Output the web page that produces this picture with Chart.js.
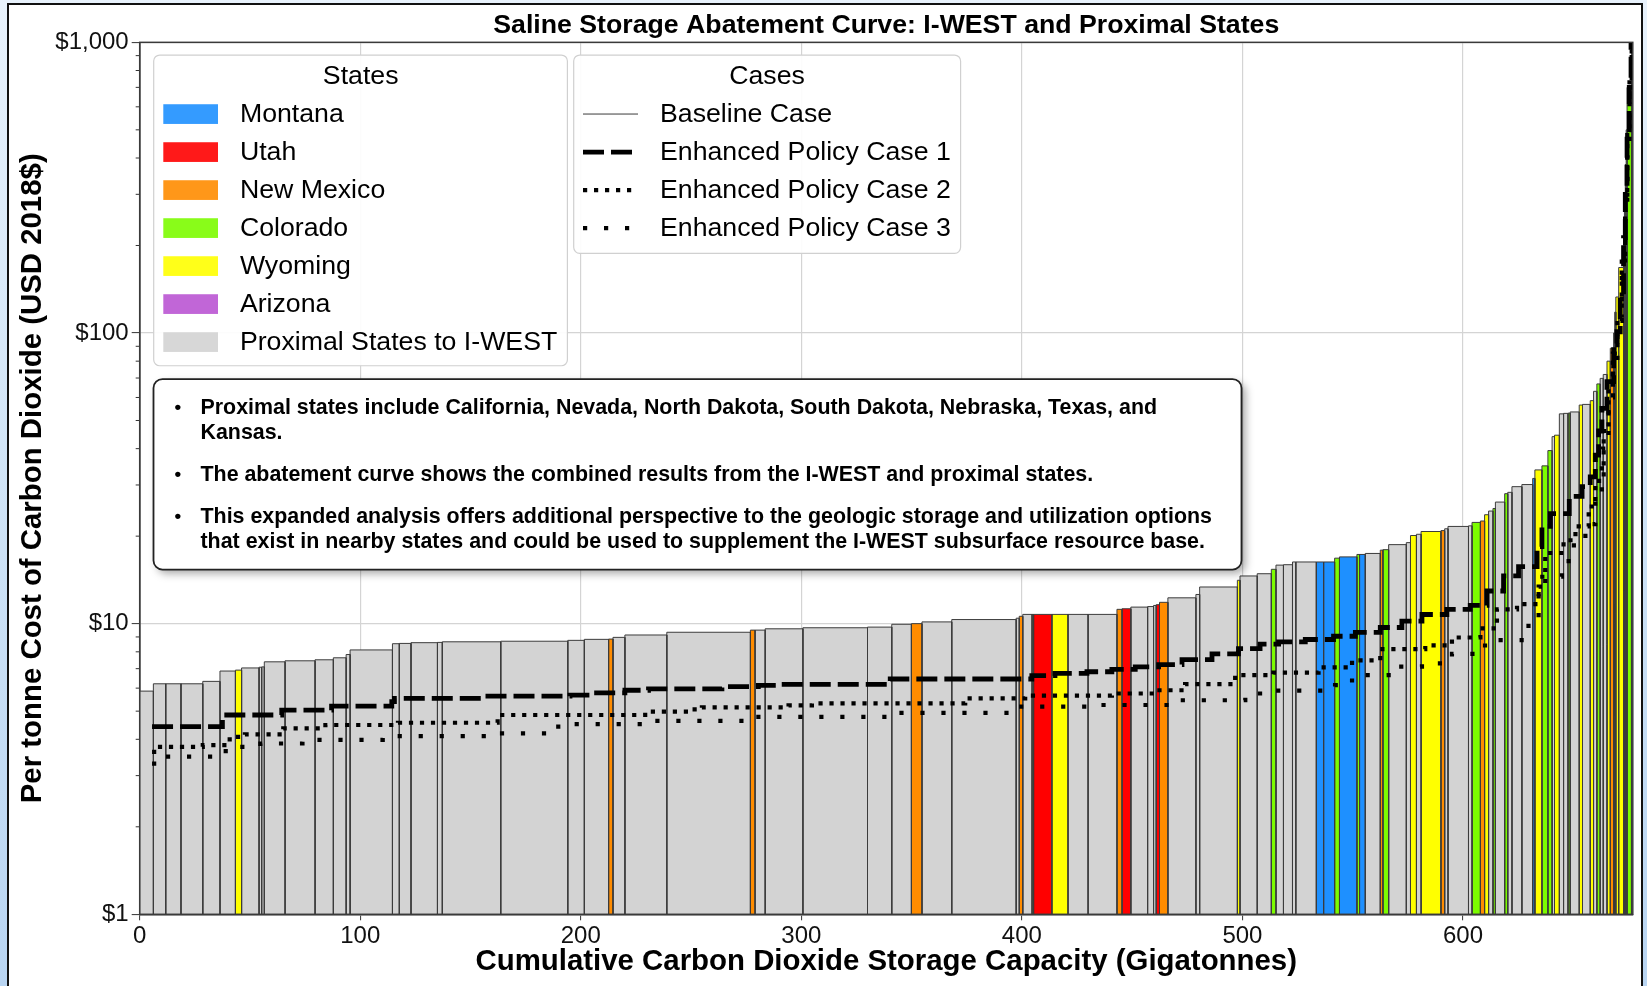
<!DOCTYPE html>
<html>
<head>
<meta charset="utf-8">
<title>Saline Storage Abatement Curve: I-WEST and Proximal States</title>
<script src="https://cdn.jsdelivr.net/npm/chart.js@4.4.1/dist/chart.umd.min.js"></script>
<style>
  html, body { margin: 0; padding: 0; width: 1647px; height: 986px; overflow: hidden;
    background: linear-gradient(180deg, #e8f2fc 0%, #d2e5f7 45%, #b9d5f2 100%); }
  #frame { position: absolute; left: 7px; top: 3px; width: 1636px; height: 1000px;
    background: #ffffff; border: 2px solid #111; box-sizing: border-box; }
  #chart { position: absolute; left: 0; top: 0; }
</style>
</head>
<body>
<div id="frame"></div>
<canvas id="chart" width="1647" height="986"></canvas>
<script>
const FONT = "'Liberation Sans', Arial, Helvetica, sans-serif";

// Storage capacity of each saline reservoir (Gt), listed in order of baseline cost
const reservoirCapacity = [
  6.2, 5.6, 6.9, 9.9, 7.8, 7.0, 2.8, 7.9, 1.2, 1.2,
  9.4, 13.6, 8.3, 5.8, 1.8, 19.2, 3.1, 5.3, 12.0, 2.2,
  26.5, 30.4, 7.5, 11.0, 2.0, 5.4, 19.0, 37.9, 2.1, 4.6,
  17.1, 29.3, 11.0, 8.9, 4.8, 13.5, 29.2, 1.4, 1.6, 4.2,
  0.7, 8.3, 7.3, 9.1, 13.1, 2.3, 4.0, 7.6, 2.7, 1.2,
  1.5, 3.8, 12.7, 1.7, 17.1, 1.2, 7.8, 6.4, 2.1, 3.4,
  4.1, 1.5, 9.3, 3.3, 5.0, 2.2, 7.9, 1.2, 2.6, 6.8,
  1.2, 2.6, 8.0, 1.9, 2.7, 2.1, 9.0, 1.7, 1.5, 9.3,
  1.6, 3.8, 1.9, 1.8, 2.0, 1.1, 4.2, 1.4, 1.9, 4.5,
  4.9, 1.0, 3.2, 2.7, 1.9, 1.1, 2.2, 1.9, 2.0, 1.0,
  4.1, 1.5, 3.5, 1.5, 1.5, 1.5, 1.4, 1.7, 1.5, 1.5,
  0.5, 0.5, 1.3, 2.2, 0.4, 0.4, 0.4, 0.4, 2.0, 0.6
];

// Baseline case cost per tonne (USD 2018$)
const baselineCost = [
  5.86, 6.21, 6.21, 6.21, 6.33, 6.87, 6.92, 7.04, 7.08, 7.10,
  7.39, 7.45, 7.51, 7.63, 7.83, 8.12, 8.53, 8.55, 8.60, 8.62,
  8.66, 8.70, 8.76, 8.83, 8.85, 8.97, 9.14, 9.34, 9.50, 9.50,
  9.60, 9.68, 9.73, 9.95, 10.0, 10.14, 10.33, 10.44, 10.60, 10.76,
  10.76, 10.76, 10.76, 10.76, 10.76, 11.2, 11.25, 11.4, 11.45, 11.55,
  11.62, 11.84, 12.27, 12.6, 13.37, 14.1, 14.59, 14.85, 15.38, 15.9,
  15.95, 16.3, 16.3, 16.3, 16.3, 16.8, 16.97, 17.3, 17.3, 17.44,
  17.9, 17.97, 18.7, 19.0, 20.1, 20.3, 20.75, 20.9, 21.2, 21.6,
  21.7, 22.3, 22.55, 23.7, 24.4, 24.9, 26.2, 28.0, 28.3, 29.6,
  30.1, 31.6, 33.8, 34.9, 39.4, 44, 44.5, 52.7, 52.9, 53,
  53.5, 56.5, 56.8, 58.5, 63, 66.8, 69.8, 72, 80, 88.6,
  100, 118, 133, 168, 200, 280, 380, 500, 700, 1000
];

// State holding each reservoir (PX = proximal state outside I-WEST)
const reservoirState = [
  'PX','PX','PX','PX','PX','PX','WY','PX','PX','PX',
  'PX','PX','PX','PX','PX','PX','PX','PX','PX','PX',
  'PX','PX','PX','PX','NM','PX','PX','PX','NM','PX',
  'PX','PX','PX','PX','NM','PX','PX','PX','NM','PX',
  'WY','UT','WY','PX','PX','NM','UT','PX','PX','PX',
  'UT','NM','PX','PX','PX','WY','PX','PX','CO','PX',
  'PX','PX','PX','MT','MT','CO','MT','CO','MT','PX',
  'NM','CO','PX','PX','WY','PX','WY','NM','PX','PX',
  'PX','CO','NM','WY','PX','CO','PX','CO','PX','PX',
  'PX','MT','WY','CO','CO','PX','WY','PX','PX','CO',
  'PX','WY','PX','WY','PX','CO','PX','PX','WY','NM',
  'PX','PX','WY','WY','PX','PX','PX','PX','CO','PX'
];

// Enhanced policy cases: cumulative capacity where each cost step begins, and its cost
const epc1Capacity = [5.6, 37.5, 64.4, 87, 114.3, 115.5, 156.6, 195.1, 205, 220, 230.7, 264, 280.5, 291, 340.3,
  404.5, 415, 429.5, 440.8, 451.4, 462, 472.6, 486.2, 498.2, 508, 516.4, 528.5, 541.3, 551.2, 562.5, 572.3,
  581.4, 592.7, 603.3, 610.9, 618.4, 625.2, 633.6, 635.8, 639.6, 648.2, 654, 657.7, 660, 661.5, 663, 665.3,
  668.3, 669.8, 671.3, 672.8, 673.6, 674.4, 675.4, 676.2];
const epc1Cost = [4.42, 4.85, 5.04, 5.2, 5.39, 5.53, 5.63, 5.68, 5.78, 5.9, 5.96, 6.07, 6.13, 6.18, 6.45,
  6.62, 6.74, 6.83, 6.96, 7.1, 7.23, 7.52, 7.87, 8.2, 8.5, 8.66, 8.82, 9.05, 9.33, 9.7, 10.2,
  10.75, 11.2, 11.55, 12.95, 14.6, 15.7, 18.4, 21.6, 23.9, 27.4, 29.6, 32, 38, 46, 55, 68,
  90, 101, 133, 213, 300, 500, 700, 1000];

const epc2Capacity = [5.6, 7.8, 28.6, 40.8, 47.7, 65.1, 84.2, 117.1, 162.3, 229.2, 248.8, 254.9, 294.2, 304.8,
  374.3, 401.5, 440.8, 460.5, 474, 496.7, 514, 534.5, 549.7, 562.5, 582.9, 595, 607.9, 615.4, 624.5, 634.3,
  637.3, 645.6, 651, 657, 660, 663.8, 666, 668, 670, 672, 673.5, 674.5, 675.5, 676.5];
const epc2Cost = [3.62, 3.77, 3.82, 4.08, 4.16, 4.36, 4.48, 4.56, 4.85, 4.98, 5.07, 5.15, 5.23, 5.32,
  5.53, 5.65, 5.75, 5.9, 6.19, 6.65, 6.78, 7.07, 7.48, 8.17, 8.42, 8.96, 9.63, 11.2, 11.67, 13.4,
  17.5, 19.36, 21.6, 25.3, 31, 46, 65, 85, 115, 180, 300, 500, 750, 1000];

const epc3Capacity = [5.6, 8, 39, 54.7, 73.8, 110.2, 157, 185, 193, 230.7, 276, 341, 397, 433.2, 468, 501.3,
  515, 542, 549.7, 566.3, 581.4, 595, 610, 629.7, 634.3, 644.9, 647.9, 655.5, 660, 663, 666, 668, 670,
  672, 673.5, 674.5, 675.5, 676.5];
const epc3Cost = [3.30, 3.49, 3.77, 3.87, 3.98, 4.1, 4.19, 4.42, 4.51, 4.63, 4.78, 4.93, 5.18, 5.25, 5.45, 5.75,
  5.88, 6.14, 6.65, 7.11, 7.3, 7.87, 8.78, 10.3, 14.5, 15.3, 18.6, 22, 27, 40, 60, 80, 110,
  170, 280, 450, 700, 1000];

// Axis ticks
const capacityTicks = [0, 100, 200, 300, 400, 500, 600];
const capacityMax = 677;
const costTicks = [1, 10, 100, 1000];
const costTickLabels = ['$1', '$10', '$100', '$1,000'];

// Legend entries
const stateCodes = ['MT', 'UT', 'NM', 'CO', 'WY', 'AZ', 'PX'];
const stateNames = ['Montana', 'Utah', 'New Mexico', 'Colorado', 'Wyoming', 'Arizona', 'Proximal States to I-WEST'];
const stateColors = { MT: '#1e90ff', UT: '#ff0000', NM: '#ff8c00', CO: '#7cfc00', WY: '#ffff00', AZ: '#ba55d3', PX: '#d3d3d3' };
const caseNames = ['Baseline Case', 'Enhanced Policy Case 1', 'Enhanced Policy Case 2', 'Enhanced Policy Case 3'];

const noteBullets = [
  ['Proximal states include California, Nevada, North Dakota, South Dakota, Nebraska, Texas, and', 'Kansas.'],
  ['The abatement curve shows the combined results from the I-WEST and proximal states.'],
  ['This expanded analysis offers additional perspective to the geologic storage and utilization options',
   'that exist in nearby states and could be used to supplement the I-WEST subsurface resource base.']
];

// Line styles for the cases
const caseStyles = [
  { width: 1, dash: [], color: '#3a3a3a' },
  { width: 4.8, dash: [21, 7], color: '#000' },
  { width: 4.2, dash: [4.2, 6.8], color: '#000' },
  { width: 4.2, dash: [4.2, 16.8], color: '#000' }
];

// One filled outline per reservoir: left edge, top at its cost, right edge
let edge = 0;
const barDatasets = reservoirCapacity.map((w, i) => {
  const x0 = edge, x1 = edge + w;
  edge = x1;
  const v = baselineCost[i];
  return {
    label: 'reservoir ' + (i + 1),
    data: [{ x: x0, y: 1 }, { x: x0, y: v }, { x: x1, y: v }, { x: x1, y: 1 }],
    borderColor: '#3c3c3c',
    borderWidth: 1,
    backgroundColor: stateColors[reservoirState[i]],
    fill: 'start',
    pointRadius: 0,
    tension: 0,
    order: 2
  };
});

function stepPoints(xs, ys) {
  const pts = xs.map((x, i) => ({ x, y: ys[i] }));
  pts.push({ x: capacityMax, y: ys[ys.length - 1] });
  return pts;
}

const policyDatasets = [
  [epc1Capacity, epc1Cost],
  [epc2Capacity, epc2Cost],
  [epc3Capacity, epc3Cost]
].map(([xs, ys], k) => ({
  label: caseNames[k + 1],
  data: stepPoints(xs, ys),
  stepped: true,
  borderColor: caseStyles[k + 1].color,
  borderWidth: caseStyles[k + 1].width,
  borderDash: caseStyles[k + 1].dash,
  borderCapStyle: 'butt',
  fill: false,
  pointRadius: 0,
  order: 0
}));

function roundedBox(ctx, x, y, w, h, r) {
  ctx.beginPath();
  ctx.moveTo(x + r, y);
  ctx.lineTo(x + w - r, y);
  ctx.arcTo(x + w, y, x + w, y + r, r);
  ctx.lineTo(x + w, y + h - r);
  ctx.arcTo(x + w, y + h, x + w - r, y + h, r);
  ctx.lineTo(x + r, y + h);
  ctx.arcTo(x, y + h, x, y + h - r, r);
  ctx.lineTo(x, y + r);
  ctx.arcTo(x, y, x + r, y, r);
  ctx.closePath();
}

const decorPlugin = {
  id: 'decor',
  afterDatasetsDraw(chart) {
    const { ctx, chartArea: { left, top, right, bottom }, scales: { y } } = chart;
    ctx.save();
    // minor log ticks on the cost axis
    ctx.strokeStyle = '#333';
    ctx.lineWidth = 1;
    for (let d = 0; d < costTicks.length - 1; d++) {
      for (let m = 2; m <= 9; m++) {
        const py = y.getPixelForValue(costTicks[d] * m);
        ctx.beginPath();
        ctx.moveTo(left - 4, py);
        ctx.lineTo(left, py);
        ctx.stroke();
      }
    }
    // axes frame
    ctx.strokeStyle = '#3a3a3a';
    ctx.lineWidth = 1.5;
    ctx.strokeRect(left, top, right - left, bottom - top);
    ctx.restore();
  },
  afterDraw(chart) {
    const { ctx, chartArea: { left, top } } = chart;
    ctx.save();
    ctx.textBaseline = 'middle';

    // States legend
    const sx = left + 14, sy = top + 12.7;
    roundedBox(ctx, sx, sy, 413.7, 310.7, 6);
    ctx.fillStyle = 'rgba(255,255,255,0.92)';
    ctx.fill();
    ctx.strokeStyle = '#d0d0d0';
    ctx.lineWidth = 1.2;
    ctx.stroke();
    ctx.fillStyle = '#000';
    ctx.font = `26.7px ${FONT}`;
    ctx.textAlign = 'center';
    ctx.fillText('States', sx + 207, sy + 22);
    ctx.textAlign = 'left';
    stateCodes.forEach((code, i) => {
      const ry = sy + 59 + i * 38;
      ctx.globalAlpha = 0.9;
      ctx.fillStyle = stateColors[code];
      ctx.fillRect(sx + 9.6, ry - 9.8, 54.7, 19.7);
      ctx.globalAlpha = 1;
      ctx.fillStyle = '#000';
      ctx.fillText(stateNames[i], sx + 86.2, ry + 1);
    });

    // Cases legend
    const cx = left + 434, cy = sy;
    roundedBox(ctx, cx, cy, 386.9, 198.3, 6);
    ctx.fillStyle = 'rgba(255,255,255,0.92)';
    ctx.fill();
    ctx.strokeStyle = '#d0d0d0';
    ctx.lineWidth = 1.2;
    ctx.stroke();
    ctx.fillStyle = '#000';
    ctx.textAlign = 'center';
    ctx.fillText('Cases', cx + 193.3, cy + 22);
    ctx.textAlign = 'left';
    caseNames.forEach((name, i) => {
      const ry = cy + 59 + i * 38;
      const st = caseStyles[i];
      ctx.save();
      ctx.strokeStyle = st.color;
      ctx.lineWidth = st.width;
      ctx.setLineDash(st.dash);
      ctx.lineCap = 'butt';
      ctx.beginPath();
      ctx.moveTo(cx + 9.3, ry);
      ctx.lineTo(cx + 64.3, ry);
      ctx.stroke();
      ctx.restore();
      ctx.fillStyle = '#000';
      ctx.fillText(name, cx + 86.3, ry + 1);
    });

    // Notes box
    const nx = left + 13.8, ny = top + 336.7, nw = 1088, nh = 190.5;
    ctx.save();
    ctx.shadowColor = 'rgba(0,0,0,0.35)';
    ctx.shadowBlur = 8;
    ctx.shadowOffsetX = 4;
    ctx.shadowOffsetY = 4;
    roundedBox(ctx, nx, ny, nw, nh, 9);
    ctx.fillStyle = '#fff';
    ctx.fill();
    ctx.restore();
    roundedBox(ctx, nx, ny, nw, nh, 9);
    ctx.strokeStyle = '#222';
    ctx.lineWidth = 1.8;
    ctx.stroke();

    ctx.fillStyle = '#000';
    ctx.font = `bold 21.4px ${FONT}`;
    const bulletStarts = [29, 96.2, 138.2];
    noteBullets.forEach((lines, b) => {
      const by = ny + bulletStarts[b];
      ctx.font = `bold 19px ${FONT}`;
      ctx.fillText('\u2022', nx + 21, by);
      ctx.font = `bold 21.4px ${FONT}`;
      lines.forEach((t, j) => ctx.fillText(t, nx + 47, by + j * 25.2));
    });
    ctx.restore();
  }
};

new Chart(document.getElementById('chart').getContext('2d'), {
  type: 'line',
  data: { datasets: [...policyDatasets, ...barDatasets] },
  options: {
    responsive: false,
    animation: false,
    events: [],
    layout: { padding: { left: 0, right: 14.2, top: 0, bottom: 0 } },
    plugins: {
      legend: { display: false },
      tooltip: { enabled: false },
      title: {
        display: true,
        fullSize: false,
        text: 'Saline Storage Abatement Curve: I-WEST and Proximal States',
        color: '#000',
        font: { family: FONT, size: 26.7, weight: 'bold' },
        padding: { top: 9.5, bottom: 0.8 }
      }
    },
    scales: {
      x: {
        type: 'linear',
        min: 0,
        max: capacityMax,
        position: 'bottom',
        afterBuildTicks: (s) => { s.ticks = capacityTicks.map(v => ({ value: v })); },
        afterFit: (s) => { s.height = 71.7; },
        ticks: { font: { family: FONT, size: 24 }, color: '#111', padding: 2, maxRotation: 0, autoSkip: false,
                 callback: (v) => String(v) },
        grid: { color: '#d4d4d4', lineWidth: 1.2, tickLength: 6, tickColor: '#333', tickWidth: 1 },
        border: { display: true, color: '#3a3a3a', width: 1.5 },
        title: { display: true, text: 'Cumulative Carbon Dioxide Storage Capacity (Gigatonnes)',
                 color: '#000', font: { family: FONT, size: 29.4, weight: 'bold' }, padding: { top: 0, bottom: 6.5 } }
      },
      y: {
        type: 'logarithmic',
        min: 1,
        max: 1000,
        position: 'left',
        afterBuildTicks: (s) => { s.ticks = costTicks.map(v => ({ value: v, major: true })); },
        afterFit: (s) => { s.width = 139.7; },
        ticks: { font: { family: FONT, size: 24 }, color: '#111', padding: 3, autoSkip: false,
                 callback: (v) => { const k = costTicks.indexOf(v); return k >= 0 ? costTickLabels[k] : ''; } },
        grid: { color: '#d4d4d4', lineWidth: 1.2, tickLength: 8, tickColor: '#333', tickWidth: 1 },
        border: { display: true, color: '#3a3a3a', width: 1.5 },
        title: { display: true, text: 'Per tonne Cost of Carbon Dioxide (USD 2018$)',
                 color: '#000', font: { family: FONT, size: 29.4, weight: 'bold' }, padding: { top: 15, bottom: 0 } }
      }
    }
  },
  plugins: [decorPlugin]
});
</script>
</body>
</html>
